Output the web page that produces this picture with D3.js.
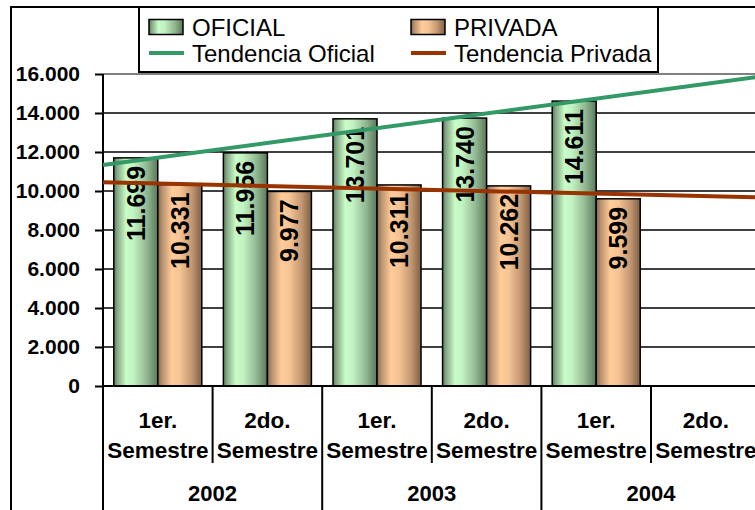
<!DOCTYPE html>
<html>
<head>
<meta charset="utf-8">
<script src="https://cdn.jsdelivr.net/npm/d3@7"></script>
<style>
  html, body { margin: 0; padding: 0; background: #fff; }
  svg { display: block; font-family: "Liberation Sans", Arial, sans-serif; }
</style>
</head>
<body>
<div id="chart"></div>
<script>
// chart data
const semestres = ["1er.", "2do.", "1er.", "2do.", "1er.", "2do."];
const years = ["2002", "2003", "2004"];
const oficial = [11699, 11956, 13701, 13740, 14611, null];
const privada = [10331, 9977, 10311, 10262, 9599, null];
const yTicks = [0, 2000, 4000, 6000, 8000, 10000, 12000, 14000, 16000];
// trend lines: value at left edge and right edge of the plot
const tendenciaOficial = [11330, 15870];
const tendenciaPrivada = [10450, 9670];

const width = 755, height = 510;
const plot = { left: 103, right: 760.6, top: 74, bottom: 386 };

const fmt = d3.formatLocale({ decimal: ",", thousands: ".", grouping: [3], currency: ["$", ""] }).format(",d");

const svg = d3.select("#chart").append("svg")
  .attr("width", width)
  .attr("height", height);

const defs = svg.append("defs");
// cylinder-like shading for the bars
function gradient(id, stops) {
  const g = defs.append("linearGradient").attr("id", id)
    .attr("x1", "0%").attr("x2", "100%").attr("y1", "0%").attr("y2", "0%");
  stops.forEach(s => g.append("stop").attr("offset", s[0]).attr("stop-color", s[1]));
}
gradient("gOficial", [["0%", "#5c7c5c"], ["8%", "#86a886"], ["28%", "#c8fcc8"], ["45%", "#c2f2c2"], ["75%", "#92b892"], ["100%", "#5a785a"]]);
gradient("gPrivada", [["0%", "#84664a"], ["10%", "#b89270"], ["32%", "#ffcc99"], ["50%", "#f6c494"], ["78%", "#c29670"], ["100%", "#7e6046"]]);

const x = d3.scaleBand()
  .domain(semestres.map((d, i) => i))
  .range([plot.left, plot.right])
  .padding(0);

const xs = d3.scaleBand()
  .domain(["oficial", "privada"])
  .range([0, x.bandwidth()])
  .paddingInner(0)
  .paddingOuter(0.245);

const y = d3.scaleLinear()
  .domain([0, 16000])
  .range([plot.bottom, plot.top]);

// outer chart frame
svg.append("path")
  .attr("d", `M11,${height + 5}V7H${width + 5}`)
  .attr("fill", "none").attr("stroke", "#000").attr("stroke-width", 2);

// gridlines
svg.append("g")
  .selectAll("line")
  .data(yTicks.filter(d => d > 0 && d < 16000))
  .join("line")
  .attr("x1", plot.left).attr("x2", plot.right)
  .attr("y1", d => y(d)).attr("y2", d => y(d))
  .attr("stroke", "#000").attr("stroke-width", 1.5);

// plot area top border
svg.append("line")
  .attr("x1", plot.left).attr("x2", plot.right)
  .attr("y1", y(16000)).attr("y2", y(16000))
  .attr("stroke", "#808080").attr("stroke-width", 2);

// y axis
svg.append("g")
  .attr("transform", `translate(${plot.left},0)`)
  .call(d3.axisLeft(y).tickValues(yTicks).tickFormat(fmt).tickSize(8).tickPadding(15))
  .call(g => g.select(".domain").attr("stroke-width", 2).attr("d", `M0,${plot.top}V${plot.bottom}`))
  .call(g => g.selectAll(".tick line").attr("stroke-width", 2))
  .call(g => g.selectAll(".tick text")
    .attr("font-size", 21).attr("font-weight", "bold").attr("fill", "#000")
    .attr("font-family", "'Liberation Sans', Arial, sans-serif"));

// bars
const series = [
  { key: "oficial", values: oficial, fill: "url(#gOficial)" },
  { key: "privada", values: privada, fill: "url(#gPrivada)" }
];

series.forEach(s => {
  const pts = s.values.map((v, i) => ({ i, v })).filter(d => d.v != null);
  svg.append("g")
    .selectAll("rect")
    .data(pts)
    .join("rect")
    .attr("x", d => x(d.i) + xs(s.key))
    .attr("y", d => y(d.v))
    .attr("width", xs.bandwidth())
    .attr("height", d => y(0) - y(d.v))
    .attr("fill", s.fill)
    .attr("stroke", "#000").attr("stroke-width", 1.5);

  svg.append("g")
    .selectAll("text")
    .data(pts)
    .join("text")
    .attr("transform", d => `translate(${x(d.i) + xs(s.key) + xs.bandwidth() / 2},${y(d.v) + 8}) rotate(-90)`)
    .attr("text-anchor", "end")
    .attr("dy", "0.36em")
    .attr("font-size", 25).attr("font-weight", "bold").attr("fill", "#000")
    .text(d => fmt(d.v));
});

// trend lines
const trends = [
  { values: tendenciaOficial, color: "#339966" },
  { values: tendenciaPrivada, color: "#993300" }
];
const line = d3.line().x(d => d[0]).y(d => y(d[1]));
trends.forEach(t => {
  svg.append("path")
    .attr("d", line([[plot.left, t.values[0]], [plot.right, t.values[1]]]))
    .attr("fill", "none").attr("stroke", t.color).attr("stroke-width", 4);
});

// x axis baseline
svg.append("line")
  .attr("x1", plot.left).attr("x2", plot.right)
  .attr("y1", plot.bottom).attr("y2", plot.bottom)
  .attr("stroke", "#000").attr("stroke-width", 2);

// category dividers: short between semesters, long between years
const xg = svg.append("g");
xg.selectAll("line")
  .data(d3.range(semestres.length + 1))
  .join("line")
  .attr("x1", i => i < semestres.length ? x(i) : plot.right)
  .attr("x2", i => i < semestres.length ? x(i) : plot.right)
  .attr("y1", plot.bottom)
  .attr("y2", i => i % 2 === 0 ? height + 5 : 463)
  .attr("stroke", "#000").attr("stroke-width", 2);

xg.selectAll("text.sem")
  .data(semestres)
  .join("text")
  .attr("class", "sem")
  .attr("x", (d, i) => x(i) + x.bandwidth() / 2)
  .attr("text-anchor", "middle")
  .attr("font-size", 22.5).attr("font-weight", "bold").attr("fill", "#000")
  .call(t => t.append("tspan").attr("x", (d, i) => x(i) + x.bandwidth() / 2).attr("y", 428).text(d => d))
  .call(t => t.append("tspan").attr("x", (d, i) => x(i) + x.bandwidth() / 2).attr("y", 458).text("Semestre"));

xg.selectAll("text.year")
  .data(years)
  .join("text")
  .attr("class", "year")
  .attr("x", (d, i) => x(i * 2) + x.bandwidth())
  .attr("y", 501)
  .attr("text-anchor", "middle")
  .attr("font-size", 22).attr("font-weight", "bold").attr("fill", "#000")
  .text(d => d);

// legend
const legend = svg.append("g");
legend.append("rect")
  .attr("x", 139).attr("y", 7).attr("width", 519).attr("height", 65)
  .attr("fill", "#fff").attr("stroke", "#000").attr("stroke-width", 2);

const legendItems = [
  { label: "OFICIAL", type: "bar", fill: "url(#gOficial)", x: 149, y: 27 },
  { label: "PRIVADA", type: "bar", fill: "url(#gPrivada)", x: 411, y: 27 },
  { label: "Tendencia Oficial", type: "line", color: "#339966", x: 149, y: 53 },
  { label: "Tendencia Privada", type: "line", color: "#993300", x: 411, y: 53 }
];
legendItems.forEach(d => {
  if (d.type === "bar") {
    legend.append("rect")
      .attr("x", d.x).attr("y", d.y - 7.5).attr("width", 34).attr("height", 15)
      .attr("fill", d.fill).attr("stroke", "#000").attr("stroke-width", 1.5);
  } else {
    legend.append("line")
      .attr("x1", d.x).attr("x2", d.x + 35).attr("y1", d.y).attr("y2", d.y)
      .attr("stroke", d.color).attr("stroke-width", 4);
  }
  legend.append("text")
    .attr("x", d.x + 43).attr("y", d.y + 9)
    .attr("font-size", 24).attr("fill", "#000")
    .text(d.label);
});
</script>
</body>
</html>
